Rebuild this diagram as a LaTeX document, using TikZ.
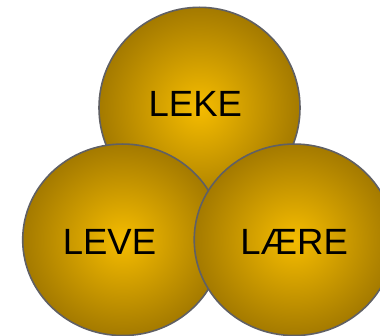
\documentclass[tikz,border=0pt]{standalone}
\usepackage{fontspec}
\setmainfont{Liberation Sans}
\usetikzlibrary{shapes.geometric}
\definecolor{goldin}{RGB}{245,188,0}
\definecolor{goldout}{RGB}{164,122,0}
\definecolor{rimgray}{RGB}{96,96,100}
\tikzset{
  ball/.style={ellipse, draw=rimgray, line width=1.6pt, shade, shading=radial,
    inner color=goldin, outer color=goldout, inner sep=0pt},
  word/.style={anchor=base, inner sep=0pt, font=\fontsize{36.5}{43}\selectfont, text=black}
}
\begin{document}
\begin{tikzpicture}[x=1pt,y=-1pt]
\useasboundingbox (0,0) rectangle (380,336);
\clip (0,0) rectangle (380,336);
\node[ball, minimum width=201pt, minimum height=201pt] (top) at (199.5,107.8) {};
\node[ball, minimum width=200pt, minimum height=191.5pt] (left) at (122.7,239.8) {};
\node[ball, minimum width=200pt, minimum height=191.5pt] (right) at (294.2,239.8) {};
\node[word] (leke) at (195.3,116.7) {LEKE};
\node[word] (leve) at (109.5,255) {LEVE};
\node[word] (laere) at (294.2,255) {LÆRE};
\end{tikzpicture}
\end{document}
